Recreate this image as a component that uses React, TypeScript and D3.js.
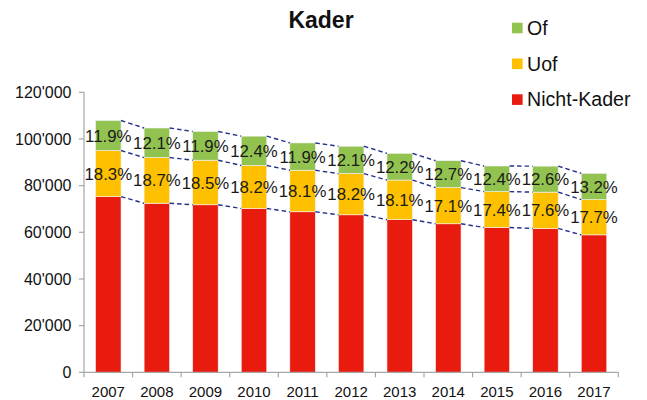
import React from "react";
import * as d3 from "d3";

const years = ["2007", "2008", "2009", "2010", "2011", "2012", "2013", "2014", "2015", "2016", "2017"];
const nichtKader = [75300, 72450, 71800, 70200, 68800, 67500, 65400, 63650, 62050, 61650, 58900];
const uof = [19750, 19580, 19100, 18440, 17800, 17650, 16990, 15510, 15390, 15560, 15100];
const of = [12850, 12670, 12300, 12560, 11700, 11740, 11450, 11520, 10970, 11140, 11260];
const uofPct = ["18.3%", "18.7%", "18.5%", "18.2%", "18.1%", "18.2%", "18.1%", "17.1%", "17.4%", "17.6%", "17.7%"];
const ofPct = ["11.9%", "12.1%", "11.9%", "12.4%", "11.9%", "12.1%", "12.2%", "12.7%", "12.4%", "12.6%", "13.2%"];
const yTicks = [0, 20000, 40000, 60000, 80000, 100000, 120000];

const seriesKeys = ["Nicht-Kader", "Uof", "Of"];
const colors: Record<string, string> = { "Nicht-Kader": "#E81B0E", Uof: "#FFC000", Of: "#92C350" };

const W = 647;
const H = 400;
const FONT = "Arial, 'Liberation Sans', sans-serif";

export default function App() {
  const rows = years.map((y, i) => ({ year: y, "Nicht-Kader": nichtKader[i], Uof: uof[i], Of: of[i] }));
  const stacked = d3.stack<any>().keys(seriesKeys)(rows);

  const x = d3.scaleBand<string>().domain(years).range([84, 618.3]).paddingInner(0.475).paddingOuter(0.2375);
  const y = d3.scaleLinear().domain([0, 120000]).range([372.3, 92.3]);
  const fmt = (v: number) => d3.format(",")(v).replace(/,/g, "'");
  const bw = x.bandwidth();
  const step = x.step();
  const x0 = 84;
  const x1 = 618.3;
  const pctLabels: Record<string, string[]> = { Uof: uofPct, Of: ofPct };

  const legendItems = ["Of", "Uof", "Nicht-Kader"];

  return (
    <div style={{ position: "fixed", left: 0, top: 0 }}>
      <svg width={W} height={H} style={{ display: "block", background: "#fff" }} fontFamily={FONT}>
        {/* title */}
        <text x={321} y={28.3} textAnchor="middle" fontSize={23} fontWeight="bold" fill="#111">
          Kader
        </text>

        {/* legend */}
        {legendItems.map((k, i) => (
          <g key={k} transform={`translate(512, ${22.7 + i * 35.8})`}>
            <rect x={0} y={0} width={10.6} height={10.6} fill={colors[k]} />
            <text x={15} y={12} fontSize={19.6} fill="#111">
              {k}
            </text>
          </g>
        ))}

        {/* bars */}
        {stacked.map((s) => (
          <g key={s.key}>
            {s.map((d, i) => (
              <rect
                key={i}
                x={x(years[i])}
                y={y(d[1])}
                width={bw}
                height={y(d[0]) - y(d[1])}
                fill={colors[s.key]}
                stroke="#f3f3f3"
                strokeWidth={0.6}
              />
            ))}
          </g>
        ))}

        {/* dashed connectors */}
        {stacked.map((s) => (
          <g key={"c" + s.key}>
            {s.slice(0, -1).map((d, i) => (
              <line
                key={i}
                x1={(x(years[i]) as number) + bw}
                y1={y(d[1])}
                x2={x(years[i + 1]) as number}
                y2={y(s[i + 1][1])}
                stroke="#26308C"
                strokeWidth={1.4}
                strokeDasharray="4.5,3"
              />
            ))}
          </g>
        ))}

        {/* percentage labels */}
        {stacked
          .filter((s) => pctLabels[s.key])
          .map((s) => (
            <g key={"l" + s.key}>
              {s.map((d, i) => (
                <text
                  key={i}
                  x={(x(years[i]) as number) + bw / 2}
                  y={(y(d[0]) + y(d[1])) / 2}
                  dy="0.36em"
                  textAnchor="middle"
                  fontSize={16.8}
                  fill="#1a1a1a"
                >
                  {pctLabels[s.key][i]}
                </text>
              ))}
            </g>
          ))}

        {/* y axis */}
        <line x1={x0} x2={x0} y1={y(120000)} y2={y(0)} stroke="#a6a6a6" strokeWidth={1.2} />
        {yTicks.map((t) => (
          <g key={t}>
            <line x1={x0 - 5} x2={x0} y1={y(t)} y2={y(t)} stroke="#a6a6a6" strokeWidth={1.2} />
            <text x={71.5} y={y(t)} dy="0.36em" textAnchor="end" fontSize={16} fill="#111">
              {fmt(t)}
            </text>
          </g>
        ))}

        {/* x axis */}
        <line x1={x0} x2={x1} y1={y(0)} y2={y(0)} stroke="#a6a6a6" strokeWidth={1.2} />
        {d3.range(years.length + 1).map((i) => (
          <line
            key={i}
            x1={x0 + i * step}
            x2={x0 + i * step}
            y1={y(0)}
            y2={y(0) + 5}
            stroke="#a6a6a6"
            strokeWidth={1.2}
          />
        ))}
        {years.map((yr) => (
          <text
            key={yr}
            x={(x(yr) as number) + bw / 2}
            y={396.5}
            textAnchor="middle"
            fontSize={15}
            fill="#111"
          >
            {yr}
          </text>
        ))}
      </svg>
    </div>
  );
}
